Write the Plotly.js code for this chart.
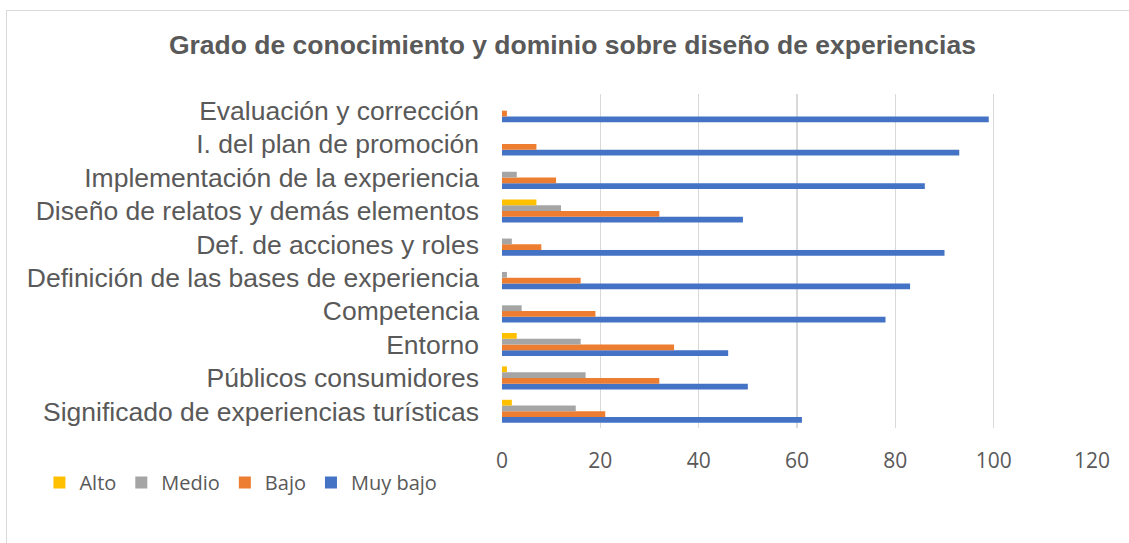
<!DOCTYPE html>
<html>
<head>
<meta charset="utf-8">
<script src="https://cdn.plot.ly/plotly-3.0.1.min.js"></script>
<style>
html,body{margin:0;padding:0;background:#fff;overflow:hidden;}
#frame{position:absolute;left:6px;top:10px;width:1200px;height:600px;border-left:1px solid #d9d9d9;border-top:1px solid #d9d9d9;}
#chart{position:absolute;left:0;top:0;width:1129px;height:543px;}
</style>
</head>
<body>
<div id="frame"></div>
<div id="chart"></div>
<script>
// Categories listed bottom to top
const categories = [
  "Significado de experiencias turísticas",
  "Públicos consumidores",
  "Entorno",
  "Competencia",
  "Definición de las bases de experiencia",
  "Def. de acciones y roles",
  "Diseño de relatos y demás elementos",
  "Implementación de la experiencia",
  "I. del plan de promoción",
  "Evaluación y corrección"
];
const alto    = [2, 1, 3, 0, 0, 0, 7, 0, 0, 0];
const medio   = [15, 17, 16, 4, 1, 2, 12, 3, 0, 0];
const bajo    = [21, 32, 35, 19, 16, 8, 32, 11, 7, 1];
const muyBajo = [61, 50, 46, 78, 83, 90, 49, 86, 93, 99];
const xTicks = [0, 20, 40, 60, 80, 100, 120];

const mk = (name, vals, color) => ({
  type: 'bar', orientation: 'h', name: name, x: vals, y: categories,
  marker: {color: color}, hoverinfo: 'x+name'
});

const data = [
  mk('Muy bajo', muyBajo, '#4472C4'),
  mk('Bajo', bajo, '#ED7D31'),
  mk('Medio', medio, '#A5A5A5'),
  mk('Alto', alto, '#FFC000')
];

const layout = {
  width: 1129, height: 543,
  paper_bgcolor: 'rgba(0,0,0,0)', plot_bgcolor: 'rgba(0,0,0,0)',
  margin: {l: 502, r: 37, t: 94, b: 115},
  title: {
    text: '<b>Grado de conocimiento y dominio sobre diseño de experiencias</b>',
    font: {family: 'Liberation Sans, Arial, sans-serif', size: 26.5, color: '#595959'},
    x: 0.507, xanchor: 'center', y: 0.917, yanchor: 'middle'
  },
  barmode: 'group', bargap: 0.31, bargroupgap: 0,
  xaxis: {
    range: [0, 120], tickvals: xTicks, ticktext: xTicks.map(String),
    showgrid: true, gridcolor: '#d9d9d9', gridwidth: 1.5,
    zeroline: false, showline: false, ticks: '',
    ticklabelstandoff: 18,
    tickfont: {family: 'Open Sans, sans-serif', size: 21, color: '#595959'}
  },
  yaxis: {
    type: 'category', showgrid: false, zeroline: false, showline: false, ticks: '',
    ticklabelstandoff: 22,
    tickfont: {family: 'Liberation Sans, Arial, sans-serif', size: 26.5, color: '#595959'}
  },
  showlegend: true,
  legend: {
    orientation: 'h', traceorder: 'reversed',
    x: -0.784, xanchor: 'left', y: -0.105, yanchor: 'top',
    font: {family: 'Open Sans, sans-serif', size: 20, color: '#595959'},
    itemwidth: 30
  }
};

Plotly.newPlot('chart', data, layout, {displayModeBar: false, staticPlot: true});
</script>
</body>
</html>
